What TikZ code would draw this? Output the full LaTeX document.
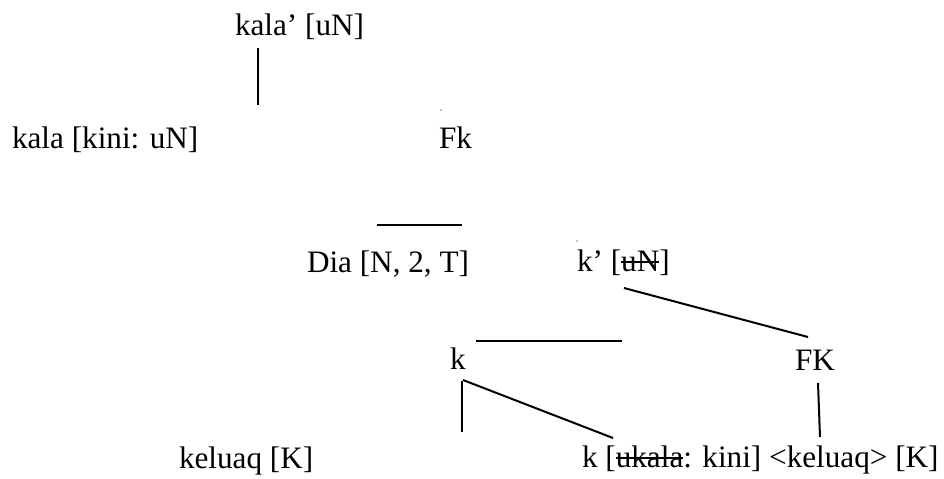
\documentclass[tikz,border=0pt]{standalone}
\usepackage{fontspec}
\setmainfont{Liberation Serif}
\newsavebox\strkbox
\newcommand\strk[1]{\sbox\strkbox{#1}\rlap{\rule[0.25em]{\wd\strkbox}{0.06em}}\usebox\strkbox}
\tikzset{
  lbl/.style={anchor=base west, inner sep=0pt, outer sep=0pt, font=\fontsize{15.6}{18}\selectfont},
  edge/.style={line width=1pt, black},
}
\begin{document}
\begin{tikzpicture}[x=0.5pt,y=-0.5pt]
\useasboundingbox (0,0) rectangle (944,478);
% labels
\node[lbl] (kalaP) at (235,35) {kala’ [uN]};
\node[lbl] (kala) at (12,148) {kala [kini: uN]};
\node[lbl] (Fk) at (439,148) {Fk};
\node[lbl] (Dia) at (307,272) {Dia [N, 2, T]};
\node[lbl] (kP) at (577,271) {k’ [\strk{uN}]};
\node[lbl] (k) at (450,369) {k};
\node[lbl] (FK) at (795,370) {FK};
\node[lbl] (keluaq) at (179,468) {keluaq [K]};
\node[lbl] (kfull) at (582,467) {k [\strk{ukala}: kini] <keluaq> [K]};
% tiny dots
\fill (441,110) circle (0.7);
\fill (577,241) circle (0.7);
% connector end points
\coordinate (a1) at (258,48);   \coordinate (a2) at (258,105);
\coordinate (b1) at (377,225);  \coordinate (b2) at (462,225);
\coordinate (c1) at (624,288);  \coordinate (c2) at (808,337);
\coordinate (d1) at (476,341);  \coordinate (d2) at (622,341);
\coordinate (e1) at (462,381);  \coordinate (e2) at (462,432);
\coordinate (f1) at (463,380);  \coordinate (f2) at (613,438);
\coordinate (g1) at (818,383);  \coordinate (g2) at (820,437);
\draw[edge] (a1) -- (a2);
\draw[edge] (b1) -- (b2);
\draw[edge] (c1) -- (c2);
\draw[edge] (d1) -- (d2);
\draw[edge] (e1) -- (e2);
\draw[edge] (f1) -- (f2);
\draw[edge] (g1) -- (g2);
\end{tikzpicture}
\end{document}
